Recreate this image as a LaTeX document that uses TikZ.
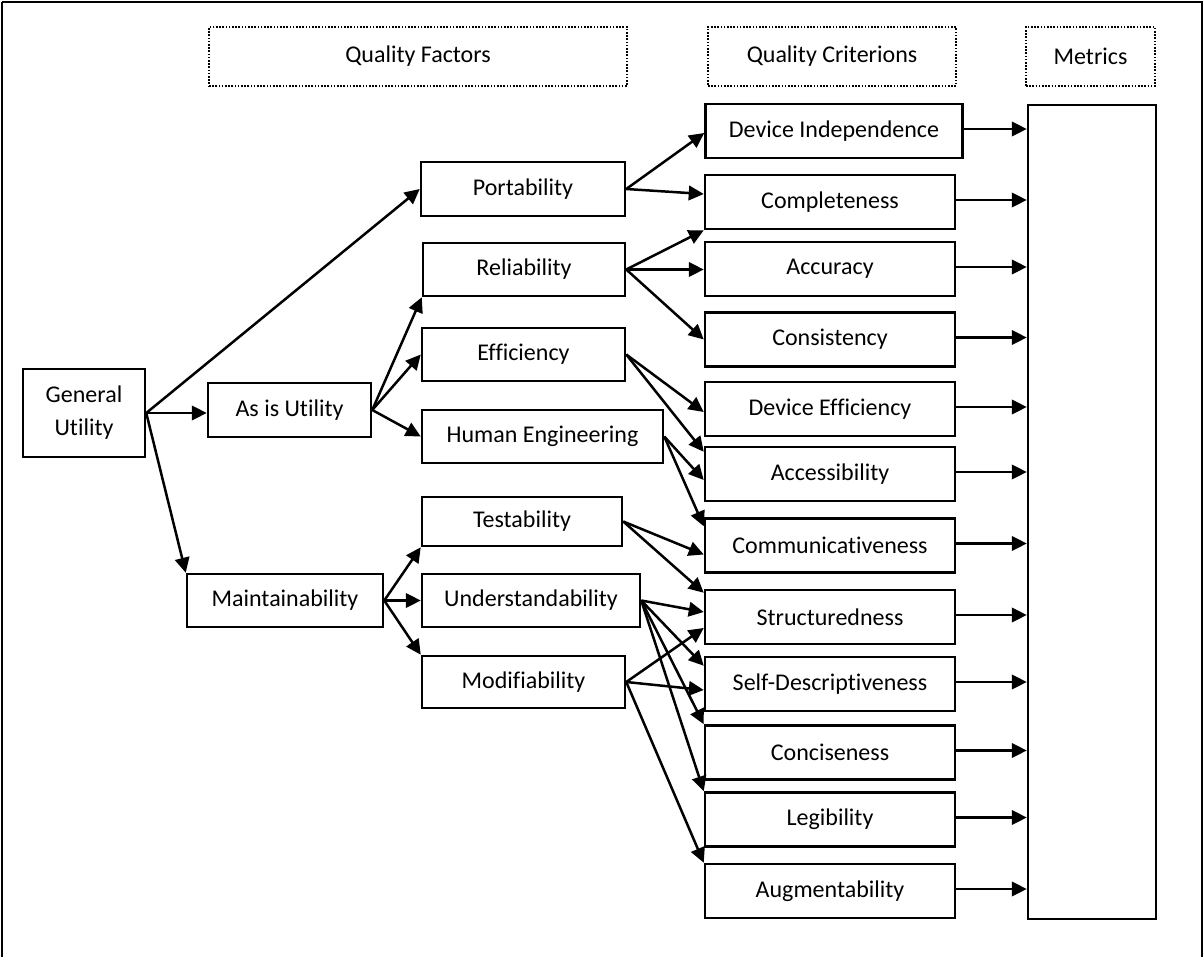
\documentclass[tikz,border=0pt]{standalone}
\usepackage{fontspec}
\setmainfont{Carlito}[Ligatures=NoCommon]
\usetikzlibrary{arrows.meta}
\begin{document}
\begin{tikzpicture}[x=1pt,y=-1pt,
  every node/.style={font=\fontsize{24}{33}\selectfont},
  box/.style={draw,line width=2.5pt,inner sep=0pt,minimum height=54pt},
  crit/.style={box,minimum width=250pt},
  header/.style={draw,line width=1.8pt,dash pattern=on 1.6pt off 1.6pt,inner sep=0pt,minimum height=59pt},
  link/.style={line width=2.5pt,-{Triangle[length=15pt,width=14.5pt]}}
]
\useasboundingbox (0,0) rectangle (1204,957);
% outer frame (bottom edge runs off the page)
\draw[line width=2.8pt] (2,2) -- (1202,2) -- (1202,970) (2,2) -- (2,970);

% column headers
\node[header,minimum width=418pt] (hqf) at (418,56.5) {Quality Factors};
\node[header,minimum width=248pt] (hqc) at (832,56.5) {Quality Criterions};
\node[header,minimum width=129pt] (hm)  at (1090.5,56.5) {Metrics};

% factors
\node[box,minimum width=122pt,minimum height=88pt,align=center] (gu) at (84,413) {General\\Utility};
\node[box,minimum width=163pt] (asis)  at (289.5,410) {As is Utility};
\node[box,minimum width=196pt,minimum height=53pt] (maint) at (285,600.5) {Maintainability};
\node[box,minimum width=204pt] (port)  at (523,189) {Portability};
\node[box,minimum width=202pt,minimum height=53pt] (rel)   at (524,269.5) {Reliability};
\node[box,minimum width=203pt,minimum height=53pt] (eff)   at (523.5,354.5) {Efficiency};
\node[box,minimum width=241pt,minimum height=53pt] (hum)   at (542.5,436.5) {Human Engineering};
\node[box,minimum width=200pt,minimum height=49pt] (test)  at (522,521.5) {Testability};
\node[box,minimum width=218pt,minimum height=53pt] (under) at (531,600.5) {Understandability};
\node[box,minimum width=203pt,minimum height=52pt] (modif) at (523.5,682) {Modifiability};

% criteria
\node[box,minimum width=257pt] (di)     at (834,131) {Device Independence};
\node[crit] (comp)   at (830,202)   {Completeness};
\node[crit] (acc)    at (830,269)   {Accuracy};
\node[crit] (cons)   at (830,339.5) {Consistency};
\node[crit] (deff)   at (830,409)   {Device Efficiency};
\node[crit] (access) at (830,474)   {Accessibility};
\node[crit] (comm)   at (830,545.5) {Communicativeness};
\node[crit] (struct) at (830,617)   {Structuredness};
\node[crit] (self)   at (830,684)   {Self-Descriptiveness};
\node[crit] (conc)   at (830,752.5) {Conciseness};
\node[crit] (leg)    at (830,819.5) {Legibility};
\node[crit] (aug)    at (830,891)   {Augmentability};

% metrics
\node[box,minimum width=128pt,minimum height=814pt] (met) at (1092,512) {};

% general utility
\draw[link] (gu.east) -- (port.west);
\draw[link] (gu.east) -- (gu.east -| asis.west);
\draw[link] (gu.east) -- (maint.north west);
% as is utility
\draw[link] (asis.east) -- (rel.south west);
\draw[link] (asis.east) -- (eff.west);
\draw[link] (asis.east) -- (hum.west);
% maintainability
\draw[link] (maint.east) -- (test.south west);
\draw[link] (maint.east) -- (maint.east -| under.west);
\draw[link] (maint.east) -- (modif.north west);

% factors to criteria
\draw[link] (port.east) -- ([yshift=-2pt]di.west);
\draw[link] (port.east) -- ([yshift=8pt]comp.west);
\draw[link] (rel.east) -- (comp.south west);
\draw[link] (rel.east) -- (rel.east -| acc.west);
\draw[link] (rel.east) -- (cons.west);
\draw[link] (eff.east) -- ([yshift=-3pt]deff.west);
\draw[link] (eff.east) -- ([yshift=-6pt]access.north west);
\draw[link] (hum.east) -- ([yshift=-6pt]access.west);
\draw[link] (hum.east) -- ([yshift=-9pt]comm.north west);
\draw[link] (test.east) -- ([yshift=-9pt]comm.west);
\draw[link] (test.east) -- ([yshift=-4pt]struct.north west);
\draw[link] (under.east) -- ([yshift=5pt]struct.west);
\draw[link] (under.east) -- ([yshift=-10pt]self.north west);
\draw[link] (under.east) -- (conc.north west);
\draw[link] (under.east) -- (leg.north west);
\draw[link] (modif.east) -- ([yshift=-11pt]struct.west);
\draw[link] (modif.east) -- ([yshift=-6pt]self.west);
\draw[link] (modif.east) -- (aug.north west);

% criteria to metrics
\foreach \c in {di,comp,acc,cons,deff,access,comm,struct,self,conc,leg,aug}
  \draw[link] ([yshift=2pt]\c.east) -- ([yshift=2pt]\c.east -| met.west);
\end{tikzpicture}
\end{document}
